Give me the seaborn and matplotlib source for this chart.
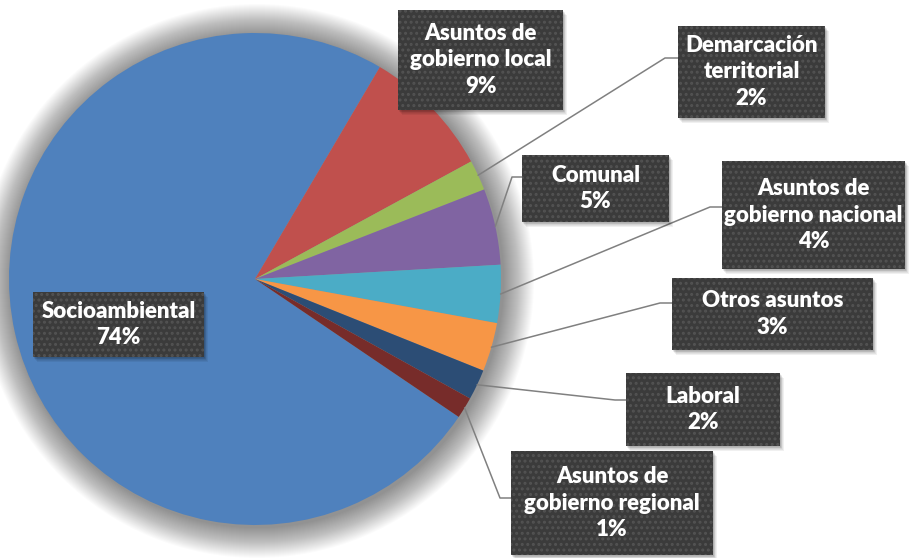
import numpy as np
import matplotlib.pyplot as plt
import seaborn as sns
from matplotlib.patches import Rectangle, Circle

# data (percent of conflicts)
categories = ["Socioambiental", "Asuntos de\ngobierno local", "Demarcación\nterritorial",
              "Comunal", "Asuntos de\ngobierno nacional", "Otros asuntos",
              "Laboral", "Asuntos de\ngobierno regional"]
shares = [74.0, 8.6, 2.0, 5.0, 3.8, 3.2, 2.0, 1.4]
colors = ["#4F81BD", "#C0504D", "#9BBB59", "#8064A2", "#4BACC6", "#F79646", "#2C4D75", "#772C2A"]

# label box layout in pixels (left, top, right, bottom) and leader elbow (x, y) or None
boxes = [(33, 292, 204, 357), (398, 10, 563, 110), (678, 26, 825, 118), (522, 155, 669, 222),
         (722, 161, 905, 269), (672, 278, 873, 350), (626, 373, 780, 446), (511, 451, 713, 555)]
elbows = [None, None, (665, 58), (512, 177), (710, 207), (660, 303), (615, 400), (500, 498)]

W, H = 917, 558
cx, cy, R = 255, 279, 246


def py(y):
    return H - y


sns.set_theme(style="white")
plt.rcParams['font.family'] = ['Lato', 'DejaVu Sans']
plt.rcParams['hatch.linewidth'] = 1.4

fig = plt.figure(figsize=(W / 100, H / 100), dpi=100)
ax = fig.add_axes([0, 0, 1, 1])

# soft shadow round the pie
for k in range(1, 32):
    ax.add_patch(Circle((cx + 2, py(cy + 2)), R + k, color="black", alpha=0.016, lw=0, zorder=0))

# Socioambiental starts where the regional slice ends (about 124 deg clockwise from top)
start = 90 - (30.5 + sum(shares[1:]) * 3.6)
wedges, _ = ax.pie(shares, colors=colors, startangle=start, counterclock=False,
                   center=(cx, py(cy)), radius=R, wedgeprops=dict(linewidth=0))
for w in wedges:
    w.set_zorder(1)

for i, (lab, val) in enumerate(zip(categories, shares)):
    l, t, r, b = boxes[i]
    # box shadow
    for s in range(1, 7):
        ax.add_patch(Rectangle((l + s * 0.6, py(b) - s * 0.8), r - l, b - t,
                               color="black", alpha=0.06, lw=0, zorder=3))
    ax.add_patch(Rectangle((l, py(b)), r - l, b - t, facecolor="#3b3b3b",
                           edgecolor="#535353", hatch="...", lw=0, zorder=4))
    ax.text((l + r) / 2, py((t + b) / 2), f"{lab}\n{round(val):.0f}%", color="white",
            fontsize=16, fontweight="heavy", ha="center", va="center",
            linespacing=1.32, zorder=5)
    if elbows[i] is not None:
        w = wedges[i]
        mid = np.deg2rad((w.theta1 + w.theta2) / 2)
        x0 = cx + R * np.cos(mid)
        y0 = py(cy) + R * np.sin(mid)
        ex, ey = elbows[i]
        ax.plot([x0, ex, l], [y0, py(ey), py(ey)], color="#808080", lw=1.1, zorder=2)

ax.set_xlim(0, W)
ax.set_ylim(0, H)
ax.set_aspect("equal")
ax.axis("off")
fig.savefig("out.png", dpi=100)
